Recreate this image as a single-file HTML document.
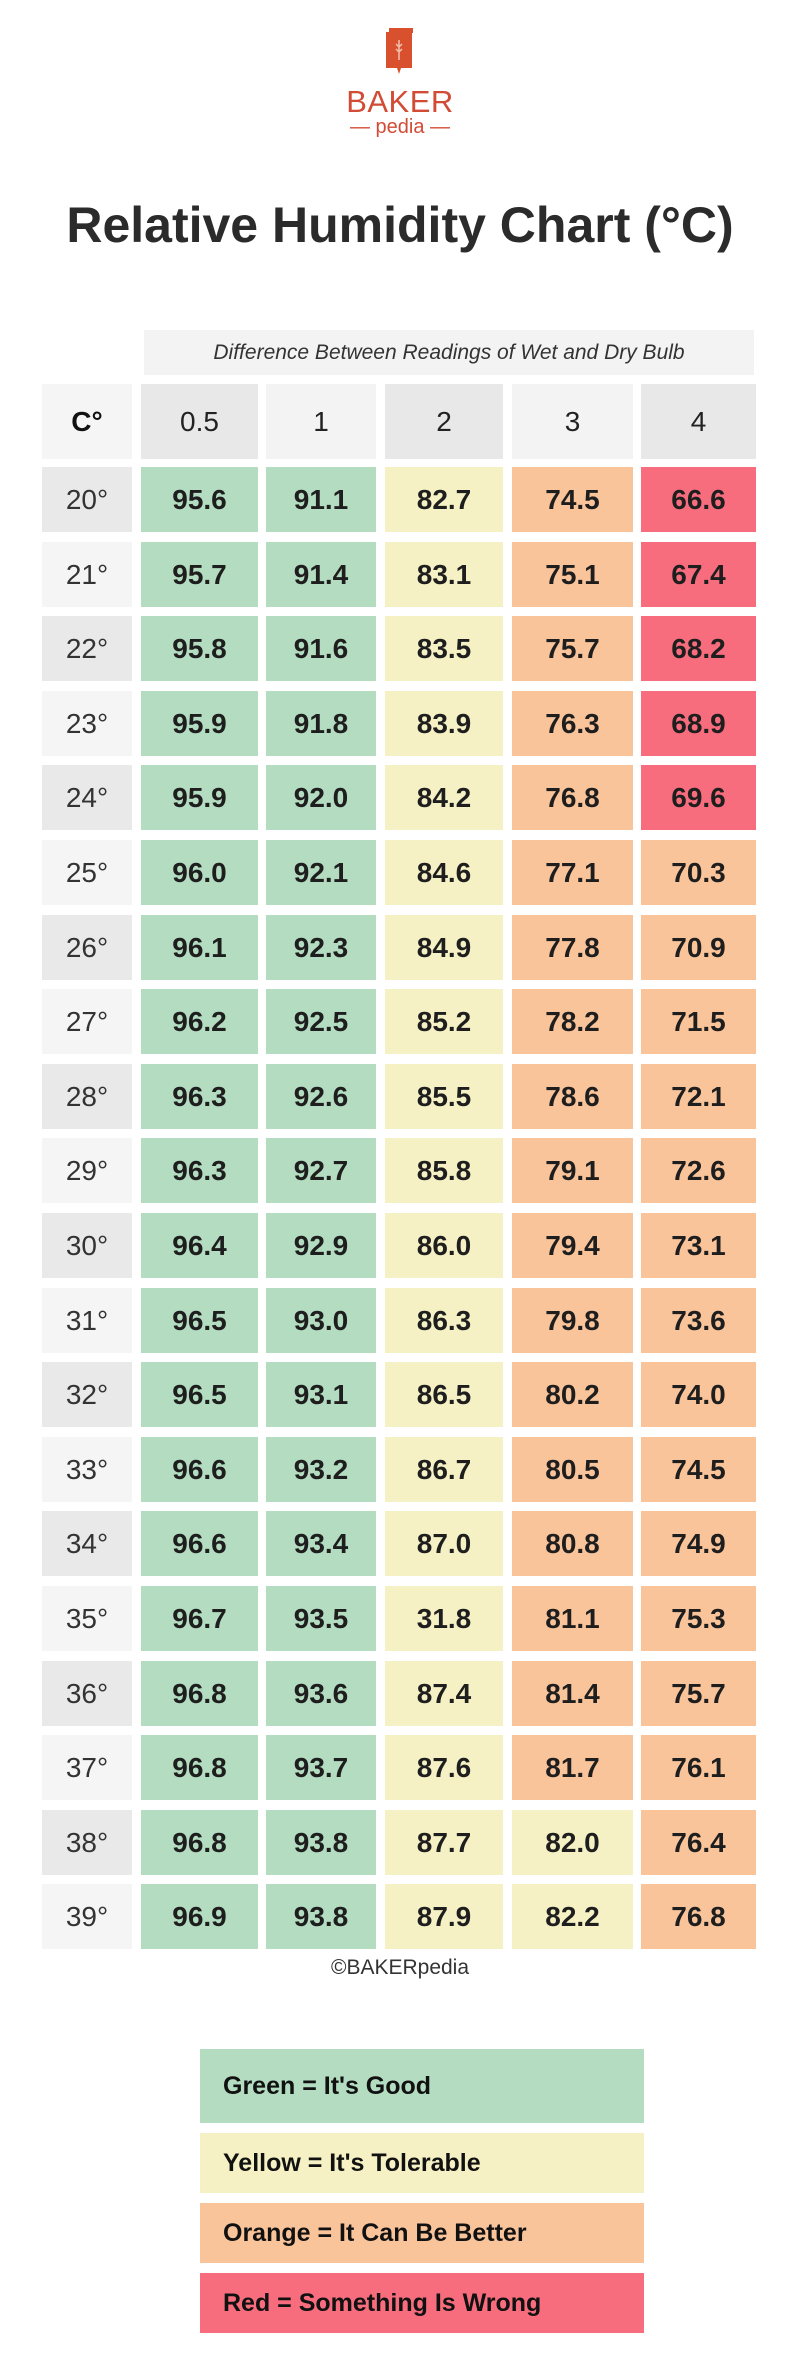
<!DOCTYPE html>
<html><head><meta charset="utf-8"><style>
*{margin:0;padding:0;box-sizing:border-box}
body{width:800px;height:2357px;background:#fff;position:relative;font-family:"Liberation Sans",sans-serif;color:#222;overflow:hidden}
.a{position:absolute}
.r{position:absolute;left:0;width:800px;height:65px}
.r div{position:absolute;top:0;height:65px;line-height:65px;text-align:center;font-size:28px;font-weight:bold;color:#1e1e1e}
.r .c0{left:42px;width:90px;font-weight:normal;background:#f5f5f5;color:#333}
.r:nth-child(odd) .c0{background:#e9e9e9}
.c1{left:141px;width:117px}.c2{left:266px;width:110px}.c3{left:385px;width:118px}.c4{left:512px;width:121px}.c5{left:641px;width:115px}
.g{background:#b3dcc1}.y{background:#f5f1c4}.o{background:#fac49b}.d{background:#f86d7d}
.h div{font-weight:normal;height:75px;line-height:75px;color:#222}
.lg{position:absolute;left:200px;width:444px;padding-left:23px;font-size:25px;font-weight:bold;color:#111}
</style></head><body>
<svg class="a" style="left:383px;top:28px" width="34" height="48" viewBox="0 0 34 48"><rect x="3" y="4" width="26" height="36" fill="#d9502f"/><rect x="6" y="0" width="24" height="5" fill="#d9502f"/><path d="M14 40 L16 46 L18 40Z" fill="#d9502f"/><path d="M16 12 v20 M13 16 l3 3 3-3 M13 21 l3 3 3-3" stroke="#f3c0b0" stroke-width="1.5" fill="none"/></svg>
<div class="a" style="left:0;width:800px;top:84px;text-align:center;font-size:31px;color:#d24c35;letter-spacing:0.5px">BAKER</div>
<div class="a" style="left:0;width:800px;top:116px;text-align:center;font-size:20px;color:#d24c35">— pedia —</div>
<div class="a" style="left:0;width:800px;top:196px;text-align:center;font-size:50px;font-weight:bold;color:#2b2b2b">Relative Humidity Chart (°C)</div>
<div class="a" style="left:144px;top:330px;width:610px;height:45px;background:#f3f3f3;text-align:center;line-height:45px;font-size:21px;font-style:italic;color:#333">Difference Between Readings of Wet and Dry Bulb</div>
<div class="r h" style="top:384px"><div class="c0" style="background:#f5f5f5;font-weight:bold;color:#111">C°</div><div class="c1" style="background:#e8e8e8">0.5</div><div class="c2" style="background:#f3f3f3">1</div><div class="c3" style="background:#e8e8e8">2</div><div class="c4" style="background:#f3f3f3">3</div><div class="c5" style="background:#e8e8e8">4</div></div>
<div>
<div class="r" style="top:467px"><div class="c0">20°</div><div class="c1 g">95.6</div><div class="c2 g">91.1</div><div class="c3 y">82.7</div><div class="c4 o">74.5</div><div class="c5 d">66.6</div></div>
<div class="r" style="top:542px"><div class="c0">21°</div><div class="c1 g">95.7</div><div class="c2 g">91.4</div><div class="c3 y">83.1</div><div class="c4 o">75.1</div><div class="c5 d">67.4</div></div>
<div class="r" style="top:616px"><div class="c0">22°</div><div class="c1 g">95.8</div><div class="c2 g">91.6</div><div class="c3 y">83.5</div><div class="c4 o">75.7</div><div class="c5 d">68.2</div></div>
<div class="r" style="top:691px"><div class="c0">23°</div><div class="c1 g">95.9</div><div class="c2 g">91.8</div><div class="c3 y">83.9</div><div class="c4 o">76.3</div><div class="c5 d">68.9</div></div>
<div class="r" style="top:765px"><div class="c0">24°</div><div class="c1 g">95.9</div><div class="c2 g">92.0</div><div class="c3 y">84.2</div><div class="c4 o">76.8</div><div class="c5 d">69.6</div></div>
<div class="r" style="top:840px"><div class="c0">25°</div><div class="c1 g">96.0</div><div class="c2 g">92.1</div><div class="c3 y">84.6</div><div class="c4 o">77.1</div><div class="c5 o">70.3</div></div>
<div class="r" style="top:915px"><div class="c0">26°</div><div class="c1 g">96.1</div><div class="c2 g">92.3</div><div class="c3 y">84.9</div><div class="c4 o">77.8</div><div class="c5 o">70.9</div></div>
<div class="r" style="top:989px"><div class="c0">27°</div><div class="c1 g">96.2</div><div class="c2 g">92.5</div><div class="c3 y">85.2</div><div class="c4 o">78.2</div><div class="c5 o">71.5</div></div>
<div class="r" style="top:1064px"><div class="c0">28°</div><div class="c1 g">96.3</div><div class="c2 g">92.6</div><div class="c3 y">85.5</div><div class="c4 o">78.6</div><div class="c5 o">72.1</div></div>
<div class="r" style="top:1138px"><div class="c0">29°</div><div class="c1 g">96.3</div><div class="c2 g">92.7</div><div class="c3 y">85.8</div><div class="c4 o">79.1</div><div class="c5 o">72.6</div></div>
<div class="r" style="top:1213px"><div class="c0">30°</div><div class="c1 g">96.4</div><div class="c2 g">92.9</div><div class="c3 y">86.0</div><div class="c4 o">79.4</div><div class="c5 o">73.1</div></div>
<div class="r" style="top:1288px"><div class="c0">31°</div><div class="c1 g">96.5</div><div class="c2 g">93.0</div><div class="c3 y">86.3</div><div class="c4 o">79.8</div><div class="c5 o">73.6</div></div>
<div class="r" style="top:1362px"><div class="c0">32°</div><div class="c1 g">96.5</div><div class="c2 g">93.1</div><div class="c3 y">86.5</div><div class="c4 o">80.2</div><div class="c5 o">74.0</div></div>
<div class="r" style="top:1437px"><div class="c0">33°</div><div class="c1 g">96.6</div><div class="c2 g">93.2</div><div class="c3 y">86.7</div><div class="c4 o">80.5</div><div class="c5 o">74.5</div></div>
<div class="r" style="top:1511px"><div class="c0">34°</div><div class="c1 g">96.6</div><div class="c2 g">93.4</div><div class="c3 y">87.0</div><div class="c4 o">80.8</div><div class="c5 o">74.9</div></div>
<div class="r" style="top:1586px"><div class="c0">35°</div><div class="c1 g">96.7</div><div class="c2 g">93.5</div><div class="c3 y">31.8</div><div class="c4 o">81.1</div><div class="c5 o">75.3</div></div>
<div class="r" style="top:1661px"><div class="c0">36°</div><div class="c1 g">96.8</div><div class="c2 g">93.6</div><div class="c3 y">87.4</div><div class="c4 o">81.4</div><div class="c5 o">75.7</div></div>
<div class="r" style="top:1735px"><div class="c0">37°</div><div class="c1 g">96.8</div><div class="c2 g">93.7</div><div class="c3 y">87.6</div><div class="c4 o">81.7</div><div class="c5 o">76.1</div></div>
<div class="r" style="top:1810px"><div class="c0">38°</div><div class="c1 g">96.8</div><div class="c2 g">93.8</div><div class="c3 y">87.7</div><div class="c4 y">82.0</div><div class="c5 o">76.4</div></div>
<div class="r" style="top:1884px"><div class="c0">39°</div><div class="c1 g">96.9</div><div class="c2 g">93.8</div><div class="c3 y">87.9</div><div class="c4 y">82.2</div><div class="c5 o">76.8</div></div>
</div>
<div class="a" style="left:0;width:800px;top:1956px;text-align:center;font-size:21px;color:#333">©BAKERpedia</div>
<div class="lg g" style="top:2049px;height:74px;line-height:74px">Green = It's Good</div>
<div class="lg y" style="top:2133px;height:60px;line-height:60px">Yellow = It's Tolerable</div>
<div class="lg o" style="top:2203px;height:60px;line-height:60px">Orange = It Can Be Better</div>
<div class="lg d" style="top:2273px;height:60px;line-height:60px">Red = Something Is Wrong</div>
</body></html>
